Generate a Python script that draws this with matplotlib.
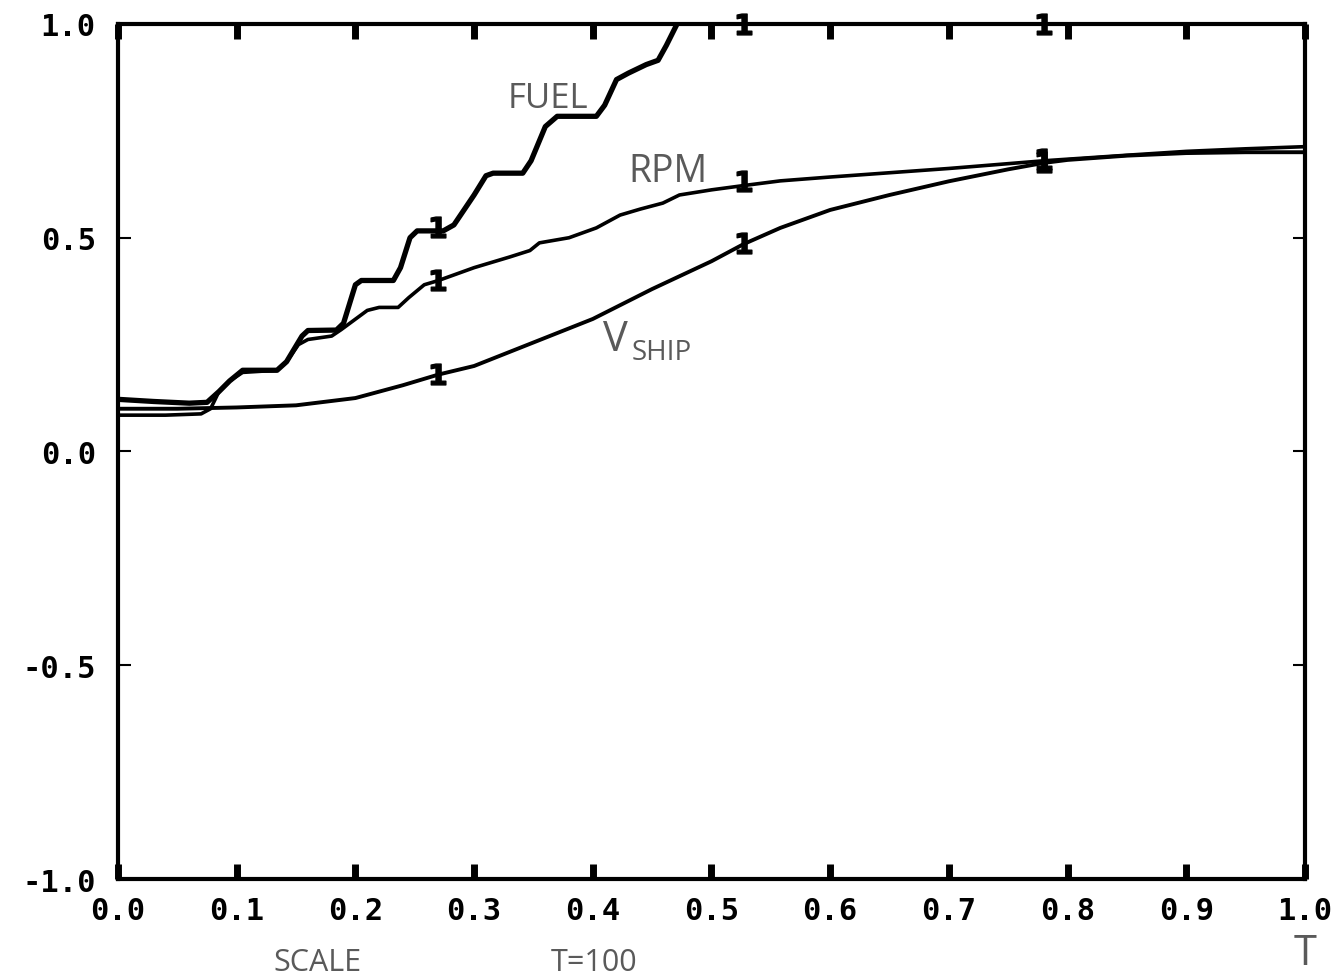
import matplotlib
matplotlib.use("Agg")
import matplotlib.pyplot as plt

# ---- data ----
fuel_t = [0.0, 0.03, 0.06, 0.075, 0.085, 0.094, 0.105, 0.134, 0.142, 0.155, 0.16, 0.184,
          0.19, 0.20, 0.205, 0.232, 0.238, 0.246, 0.252, 0.274, 0.283, 0.30, 0.31, 0.316,
          0.341, 0.348, 0.36, 0.37, 0.403, 0.41, 0.42, 0.43, 0.445, 0.455, 0.462, 0.471, 0.478]
fuel_v = [0.122, 0.117, 0.113, 0.115, 0.14, 0.165, 0.19, 0.19, 0.21, 0.27, 0.283, 0.284,
          0.30, 0.39, 0.40, 0.40, 0.43, 0.50, 0.516, 0.516, 0.53, 0.60, 0.645, 0.651,
          0.651, 0.68, 0.76, 0.784, 0.784, 0.81, 0.87, 0.885, 0.905, 0.915, 0.95, 1.0, 1.03]

rpm_t = [0.0, 0.04, 0.07, 0.078, 0.085, 0.094, 0.105, 0.134, 0.142, 0.152, 0.16, 0.18,
         0.188, 0.21, 0.22, 0.236, 0.245, 0.258, 0.27, 0.285, 0.30, 0.33, 0.347, 0.355,
         0.38, 0.403, 0.423, 0.44, 0.459, 0.473, 0.50, 0.527, 0.558, 0.60, 0.65, 0.70,
         0.78, 0.85, 0.90, 0.95, 1.0]
rpm_v = [0.085, 0.085, 0.088, 0.10, 0.14, 0.165, 0.185, 0.19, 0.21, 0.25, 0.262, 0.27,
         0.285, 0.33, 0.337, 0.337, 0.36, 0.39, 0.40, 0.415, 0.43, 0.455, 0.47, 0.488,
         0.50, 0.523, 0.553, 0.567, 0.581, 0.60, 0.612, 0.622, 0.633, 0.642, 0.652, 0.662,
         0.68, 0.693, 0.702, 0.708, 0.713]

vship_t = [0.0, 0.05, 0.10, 0.15, 0.20, 0.24, 0.27, 0.30, 0.35, 0.40, 0.45, 0.50, 0.527,
           0.558, 0.60, 0.65, 0.70, 0.75, 0.78, 0.80, 0.85, 0.90, 0.95, 1.0]
vship_v = [0.10, 0.10, 0.103, 0.108, 0.125, 0.155, 0.18, 0.20, 0.255, 0.31, 0.38, 0.445,
           0.485, 0.523, 0.565, 0.60, 0.632, 0.66, 0.675, 0.682, 0.692, 0.698, 0.70, 0.70]

marker_t = [0.27, 0.527, 0.78]
fuel_mark = [0.525, 1.0, 1.0]
rpm_mark = [0.40, 0.632, 0.685]
vship_mark = [0.182, 0.488, 0.676]

x_ticks = [0.0, 0.1, 0.2, 0.3, 0.4, 0.5, 0.6, 0.7, 0.8, 0.9, 1.0]
x_labels = ["0.0", "0.1", "0.2", "0.3", "0.4", "0.5", "0.6", "0.7", "0.8", "0.9", "1.0"]
y_ticks = [-1.0, -0.5, 0.0, 0.5, 1.0]
y_labels = ["-1.0", "-0.5", "0.0", "0.5", "1.0"]

# ---- figure ----
fig = plt.figure(figsize=(13.35, 9.79), dpi=100)
ax = fig.add_axes([0.0884, 0.1011, 0.9775 - 0.0884, 0.9745 - 0.1011])

ax.plot(fuel_t, fuel_v, color="black", lw=3.8, solid_joinstyle="round")
ax.plot(rpm_t, rpm_v, color="black", lw=2.6, solid_joinstyle="round")
ax.plot(vship_t, vship_v, color="black", lw=2.8, solid_joinstyle="round")

mk = dict(linestyle="none", marker=r"$\mathbf{1}$", ms=15, color="black", clip_on=False)
ax.plot(marker_t, fuel_mark, **mk)
ax.plot(marker_t, rpm_mark, **mk)
ax.plot(marker_t, vship_mark, **mk)

ax.set_xlim(0, 1)
ax.set_ylim(-1, 1)
ax.set_xticks(x_ticks)
ax.set_xticklabels(x_labels)
ax.set_yticks(y_ticks)
ax.set_yticklabels(y_labels)

for s in ax.spines.values():
    s.set_linewidth(3.0)

ax.tick_params(axis="x", which="major", direction="in", top=True, bottom=True,
               length=11, width=5, pad=12)
ax.tick_params(axis="y", which="major", direction="in", left=True, right=True,
               length=9, width=1.5, pad=16)
for lab in ax.get_xticklabels() + ax.get_yticklabels():
    lab.set_fontfamily("DejaVu Sans Mono")
    lab.set_fontweight("bold")
    lab.set_fontsize(22)

# handwritten annotations
hw = dict(color="#5a5a5a", family="Open Sans", ha="center", va="center")
ax.text(0.362, 0.826, "FUEL", fontsize=25, **hw)
ax.text(0.463, 0.655, "RPM", fontsize=27, **hw)
ax.text(0.419, 0.262, "V", fontsize=30, **hw)
ax.text(0.458, 0.232, "SHIP", fontsize=20, **hw)
fig.text(0.9775, 0.026, "T", fontsize=30, **hw)
fig.text(0.238, 0.016, "SCALE", fontsize=22, **hw)
fig.text(0.445, 0.016, "T=100", fontsize=22, **hw)

fig.savefig("out.png", dpi=100)
